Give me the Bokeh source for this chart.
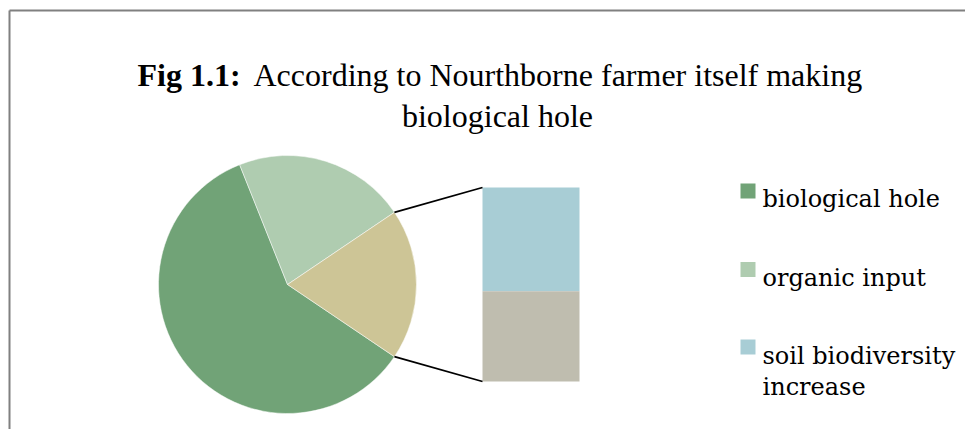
import math
from bokeh.plotting import figure
from bokeh.models import Range1d, ColumnDataSource
from bokeh.core.properties import value
from bokeh.embed import file_html
from bokeh.resources import INLINE

# ---- data ----
categories = ["biological hole", "organic input", "soil biodiversity increase", "other"]
values = [59.5, 21.6, 10.1, 8.8]
pie_colors = ["#71A377", "#AFCCB0", "#CDC596"]
bar_colors = ["#A8CDD5", "#BFBDAF"]
legend_labels = ["biological hole", "organic input", "soil biodiversity\nincrease"]
legend_colors = ["#71A377", "#AFCCB0", "#A8CDD5"]
title_bold = "Fig 1.1:"
title_rest = "According to Nourthborne farmer itself making"
title_line2 = "biological hole"

W, H = 965, 429

p = figure(width=W, height=H, x_range=Range1d(0, W), y_range=Range1d(0, H),
           output_backend="svg", toolbar_location=None, min_border=0)
p.axis.visible = False
p.grid.visible = False
p.outline_line_color = None
p.background_fill_color = "white"
p.border_fill_color = "white"


def dy(py):
    # pixel row from the top -> data y
    return H - py


# chart frame (top and left edges visible)
p.line(x=[9, W], y=[dy(10), dy(10)], line_color="#808080", line_width=2)
p.line(x=[9, 9], y=[dy(10), 0], line_color="#808080", line_width=2)

# ---- pie ----
total = sum(values)
other_total = values[2] + values[3]
cx, cy, r = 287, dy(284), 129
half = other_total / total * math.pi
org_start = half
org_end = org_start + values[1] / total * 2 * math.pi
bio_start = org_end
bio_end = 2 * math.pi - half
starts = [bio_start, org_start, -half]
ends = [bio_end, org_end, half]
src = ColumnDataSource(dict(x=[cx] * 3, y=[cy] * 3, s=starts, e=ends, c=pie_colors))
p.wedge(x="x", y="y", radius=r, radius_units="screen", start_angle="s", end_angle="e",
        fill_color="c", line_color="white", line_width=0.5, source=src)

# ---- bar of pie ----
bar_left, bar_right = 482, 579
bar_bottom, bar_top = dy(381), dy(187)
bar_px = bar_top - bar_bottom
gray_h = values[3] / other_total * bar_px
bsrc = ColumnDataSource(dict(
    x=[(bar_left + bar_right) / 2] * 2,
    bottom=[bar_bottom + gray_h, bar_bottom],
    top=[bar_top, bar_bottom + gray_h],
    c=bar_colors))
p.vbar(x="x", bottom="bottom", top="top", width=bar_right - bar_left, fill_color="c",
       line_color=None, source=bsrc)

# connector lines
ex1, ey1 = cx + r * math.cos(half), cy + r * math.sin(half)
ex2, ey2 = cx + r * math.cos(-half), cy + r * math.sin(-half)
p.segment(x0=[ex1, ex2], y0=[ey1, ey2], x1=[bar_left, bar_left], y1=[bar_top, bar_bottom],
          line_color="black", line_width=1.8)

# ---- title ----
p.text(x=[137], y=[dy(74)], text=[title_bold], text_font=value("Liberation Serif"),
       text_font_size="32px", text_font_style="bold", text_baseline="alphabetic",
       text_align="left", text_color="black")
p.text(x=[253], y=[dy(74)], text=[title_rest], text_font=value("Liberation Serif"),
       text_font_size="32px", text_baseline="alphabetic", text_align="left", text_color="black")
p.text(x=[497], y=[dy(115)], text=[title_line2], text_font=value("Liberation Serif"),
       text_font_size="32px", text_baseline="alphabetic", text_align="center", text_color="black")

# ---- legend ----
sq_y = [190.5, 269, 346.5]
base_y = [198, 277, 355]
p.rect(x=[747.5] * 3, y=[dy(v) for v in sq_y], width=15, height=15, width_units="screen",
       height_units="screen", fill_color=legend_colors, line_color=None)
for lab, by in zip(legend_labels, base_y):
    lines = lab.split("\n")
    for i, ln in enumerate(lines):
        p.text(x=[762], y=[dy(by + 31 * i)], text=[ln], text_font=value("DejaVu Serif"),
               text_font_size="24px", text_baseline="alphabetic", text_align="left",
               text_color="black")

open("out.html", "w").write(file_html(p, INLINE))
